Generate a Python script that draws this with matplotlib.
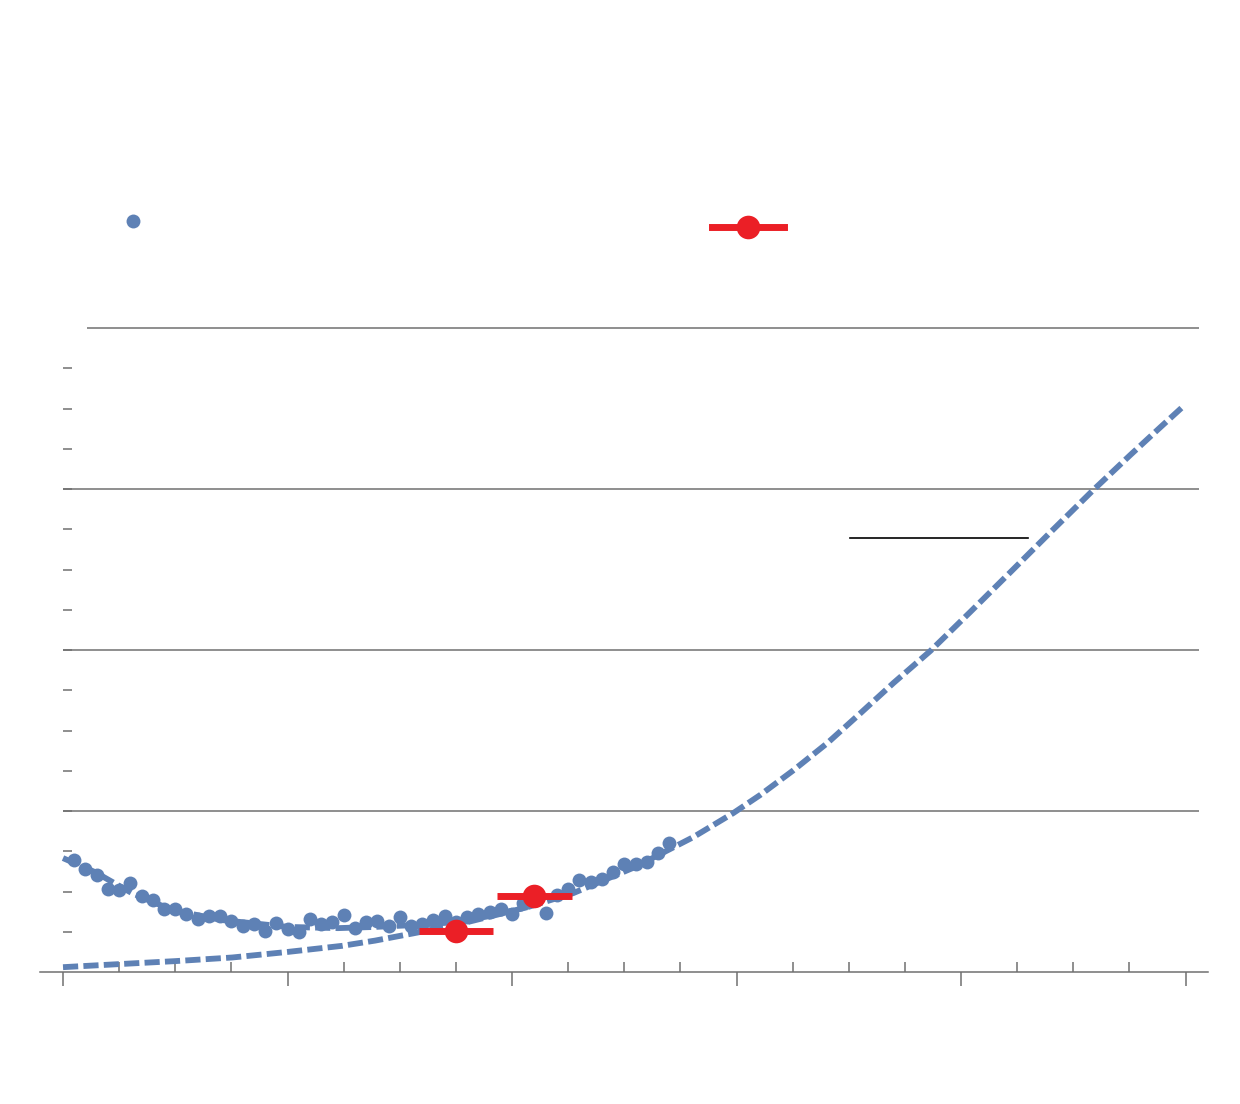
import matplotlib
matplotlib.use("Agg")
import matplotlib.pyplot as plt
from matplotlib.lines import Line2D
from matplotlib.ticker import MultipleLocator, NullFormatter

# ---------------- data ----------------
dot_x = [0.05 * k for k in range(1, 55)]
dot_y = [0.278, 0.256, 0.241, 0.206, 0.204, 0.221, 0.189, 0.179, 0.157, 0.157,
         0.144, 0.132, 0.139, 0.139, 0.127, 0.114, 0.119, 0.102, 0.122, 0.107,
         0.099, 0.132, 0.119, 0.124, 0.142, 0.109, 0.124, 0.127, 0.114, 0.137,
         0.114, 0.119, 0.129, 0.139, 0.124, 0.137, 0.144, 0.149, 0.157, 0.144,
         0.171, 0.186, 0.147, 0.191, 0.206, 0.229, 0.224, 0.231, 0.248, 0.268,
         0.268, 0.273, 0.296, 0.320]

model_x = [0.000, 0.263, 0.499, 0.753, 1.003, 1.243, 1.390, 1.560, 1.751, 2.068,
           2.273, 2.549, 2.807, 2.986, 3.106, 3.253, 3.405, 3.552, 3.699, 3.864,
           4.042, 4.221, 4.399, 4.590, 4.755, 4.889, 4.991]
model_y = [0.012, 0.020, 0.027, 0.036, 0.050, 0.065, 0.078, 0.096, 0.117, 0.161,
           0.196, 0.261, 0.335, 0.395, 0.440, 0.501, 0.569, 0.643, 0.718, 0.798,
           0.895, 0.994, 1.093, 1.198, 1.285, 1.354, 1.406]

fit_x = [0.000, 0.143, 0.307, 0.486, 0.709, 1.000, 1.225, 1.390, 1.578, 1.75, 1.90, 2.068]
fit_y = [0.283, 0.248, 0.196, 0.154, 0.129, 0.112, 0.109, 0.112, 0.117, 0.124, 0.139, 0.161]

red_x = [1.75, 2.10]
red_y = [0.102, 0.189]
red_xerr = [0.165, 0.165]

grid_y = [0.4, 0.8, 1.2]
top_y = 1.6

BLUE = "#5e81b5"
RED = "#eb1f26"
GRAY = "#707070"

# ---------------- figure ----------------
fig = plt.figure(figsize=(12.4, 11.04), dpi=100)
ax = fig.add_axes([40 / 1240, 132 / 1104, 1168 / 1240, 644 / 1104])
ax.set_xlim(-0.1025, 5.10)
ax.set_ylim(0, 1.6)

for s in ("top", "right"):
    ax.spines[s].set_visible(False)
ax.spines["left"].set_position(("data", 0))
ax.spines["left"].set_visible(False)
ax.spines["bottom"].set_color(GRAY)
ax.spines["bottom"].set_linewidth(1.1)

# grid lines
ax.hlines(grid_y, 0, 5.058, color=GRAY, lw=1.1, zorder=1)
ax.hlines([top_y], 0.107, 5.058, color=GRAY, lw=1.1, zorder=1, clip_on=False)

# ticks
ax.xaxis.set_major_locator(MultipleLocator(1))
ax.xaxis.set_minor_locator(MultipleLocator(0.25))
ax.xaxis.set_major_formatter(NullFormatter())
ax.yaxis.set_major_formatter(NullFormatter())
ax.tick_params(axis="x", which="major", direction="out", length=10, width=1.1, color=GRAY)
ax.tick_params(axis="x", which="minor", direction="in", length=7, width=1.1, color=GRAY)
ax.tick_params(axis="y", which="major", direction="in", length=6.5, width=1.1, color=GRAY)
ax.set_xticks([0, 1, 2, 3, 4, 5])
ax.set_yticks([round(0.1 * k, 1) for k in range(1, 16)])

# curves
dash = (0, (2.6, 0.9))
ax.plot(model_x, model_y, color=BLUE, lw=4.2, ls=dash, zorder=2)
ax.plot(fit_x, fit_y, color=BLUE, lw=4.2, ls=dash, zorder=2)

# data points
ax.plot(dot_x, dot_y, "o", color=BLUE, ms=10, mec="none", zorder=3)

# red points with horizontal error bars
ax.errorbar(red_x, red_y, xerr=red_xerr, fmt="o", color=RED, ms=17, mec="none",
            elinewidth=5, capsize=0, zorder=4)

# short black rule (annotation bar)
ax.add_line(Line2D([(850 - 40) / 1168, (1028 - 40) / 1168],
                   [(972 - 538) / 644, (972 - 538) / 644],
                   transform=ax.transAxes, color="black", lw=1.2))

# legends (markers only, no text in reference)
h_blue = Line2D([], [], ls="none", marker="o", color=BLUE, ms=10, mec="none")
h_red = Line2D([], [], ls="-", lw=5, marker="o", color=RED, ms=17, mec="none")
fig.legend([h_blue], [""], loc="center left", bbox_to_anchor=(126 / 1240, 1 - 222 / 1104),
           frameon=False, borderpad=0, borderaxespad=0, handletextpad=0,
           handlelength=1.0, fontsize=10)
fig.legend([h_red], [""], loc="center left", bbox_to_anchor=(712 / 1240, 1 - 228 / 1104),
           frameon=False, borderpad=0, borderaxespad=0, handletextpad=0,
           handlelength=5.2, fontsize=10)

fig.savefig("out.png", dpi=100)
